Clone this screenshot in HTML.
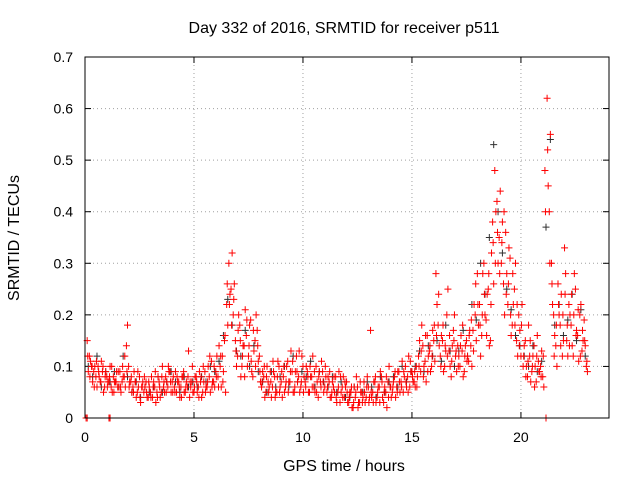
<!DOCTYPE html>
<html><head><meta charset="utf-8"><style>
body{margin:0;background:#fff}
svg text{font-family:"Liberation Sans",sans-serif;font-size:14px;fill:#000}
svg text.big{font-size:16px}
</style></head><body>
<svg id="chart" width="640" height="480" xmlns="http://www.w3.org/2000/svg">
<rect x="0" y="0" width="640" height="480" fill="#fff"/>
<text class="big" x="344" y="33" text-anchor="middle">Day 332 of 2016, SRMTID for receiver p511</text>
<text class="big" x="344" y="471" text-anchor="middle">GPS time / hours</text>
<text class="big" transform="translate(19,238) rotate(-90)" text-anchor="middle">SRMTID / TECUs</text>
<g id="grid"></g>
<g id="ticks"></g>
<g id="black"></g>
<g id="red"></g>
<rect x="85" y="57" width="524" height="361" fill="none" stroke="#000" stroke-width="1"/>
</svg>
<script>
const xTicks=[0,5,10,15,20];
const yTicks=[0,0.1,0.2,0.3,0.4,0.5,0.6,0.7];
const yTickLabels=["0","0.1","0.2","0.3","0.4","0.5","0.6","0.7"];
const redA=[0.15,0.12,0.10,0.09,0.08,0.10,0.07,0.09,0.06,0.08,
0.07,0.06,0.08,0.07,0.06,0.09,0.07,0.08,0.14,0.10,
0.07,0.06,0.07,0.05,0.08,0.06,0.05,0.07,0.04,0.05,
0.04,0.06,0.05,0.07,0.05,0.06,0.08,0.06,0.09,0.07,
0.06,0.05,0.07,0.06,0.08,0.05,0.06,0.04,0.07,0.05,
0.08,0.06,0.07,0.05,0.09,0.06,0.08,0.11,0.07,0.09,
0.08,0.10,0.12,0.15,0.22,0.30,0.25,0.20,0.15,0.12,
0.18,0.10,0.14,0.16,0.12,0.19,0.08,0.15,0.17,0.12,
0.06,0.08,0.05,0.07,0.09,0.06,0.08,0.05,0.10,0.07,
0.08,0.06,0.11,0.07,0.09,0.05,0.12,0.08,0.06,0.10,
0.07,0.09,0.05,0.08,0.06,0.10,0.04,0.07,0.09,0.06,
0.05,0.07,0.04,0.06,0.08,0.05,0.03,0.06,0.04,0.07,
0.03,0.05,0.02,0.04,0.06,0.03,0.05,0.07,0.04,0.06,
0.17,0.05,0.07,0.04,0.06,0.08,0.03,0.05,0.07,0.06,
0.05,0.08,0.06,0.09,0.07,0.05,0.10,0.08,0.06,0.09,
0.07,0.10,0.12,0.09,0.14,0.11,0.16,0.13,0.10,0.15,
0.28,0.18,0.12,0.15,0.10,0.20,0.13,0.08,0.17,0.12,
0.14,0.10,0.13,0.09,0.15,0.11,0.14,0.17,0.20,0.28,
0.22,0.16,0.30,0.19,0.25,0.15,0.38,0.48,0.42,0.35,
0.30,0.26,0.36,0.22,0.31,0.18,0.25,0.15,0.20,0.12,
0.10,0.15,0.08,0.12,0.09,0.14,0.07,0.11,0.10,0.08,
0.48,0.62,0.40,0.30,0.20,0.14,0.26,0.18,0.12,0.33,
0.15,0.22,0.18,0.12,0.25,0.16,0.20,0.13,0.19,0.10];
const redB=[0.09,0.11,0.07,0.10,0.06,0.08,0.11,0.05,0.09,0.07,
0.10,0.05,0.07,0.09,0.06,0.05,0.08,0.06,0.18,0.07,
0.05,0.09,0.04,0.06,0.03,0.07,0.06,0.04,0.06,0.08,
0.07,0.03,0.08,0.04,0.10,0.05,0.07,0.09,0.05,0.08,
0.09,0.07,0.04,0.08,0.05,0.07,0.13,0.06,0.05,0.08,
0.05,0.09,0.04,0.07,0.06,0.10,0.05,0.07,0.06,0.12,
0.14,0.06,0.09,0.05,0.18,0.24,0.32,0.26,0.10,0.20,
0.08,0.14,0.21,0.10,0.18,0.09,0.13,0.20,0.11,0.07,
0.09,0.04,0.10,0.06,0.04,0.09,0.05,0.11,0.06,0.04,
0.05,0.10,0.07,0.13,0.05,0.09,0.07,0.05,0.12,0.08,
0.10,0.05,0.08,0.12,0.05,0.07,0.09,0.11,0.05,0.08,
0.08,0.04,0.07,0.05,0.03,0.09,0.05,0.08,0.06,0.03,
0.05,0.02,0.06,0.08,0.03,0.05,0.04,0.03,0.08,0.04,
0.04,0.07,0.03,0.06,0.09,0.04,0.06,0.02,0.10,0.04,
0.07,0.04,0.09,0.05,0.11,0.08,0.06,0.12,0.09,0.07,
0.06,0.08,0.15,0.18,0.10,0.07,0.12,0.09,0.17,0.11,
0.22,0.14,0.16,0.09,0.13,0.25,0.10,0.14,0.20,0.09,
0.12,0.16,0.08,0.14,0.12,0.17,0.10,0.22,0.15,0.18,
0.12,0.28,0.20,0.24,0.14,0.32,0.26,0.40,0.30,0.44,
0.38,0.20,0.28,0.33,0.16,0.22,0.30,0.12,0.17,0.22,
0.14,0.10,0.18,0.07,0.12,0.10,0.16,0.09,0.13,0.06,
0.00,0.45,0.55,0.22,0.16,0.10,0.20,0.24,0.15,0.28,
0.12,0.20,0.14,0.28,0.17,0.11,0.22,0.15,0.14,0.09];
const redC=[0.12,0.08,0.10,0.06,0.11,0.09,0.07,0.10,0.08,0.06,
0.08,0.10,0.05,0.07,0.09,0.06,0.10,0.12,0.09,0.06,
0.08,0.05,0.07,0.09,0.04,0.06,0.08,0.05,0.07,0.04,
0.06,0.09,0.04,0.06,0.08,0.07,0.05,0.10,0.07,0.05,
0.05,0.08,0.06,0.04,0.09,0.06,0.08,0.07,0.10,0.06,
0.07,0.04,0.08,0.10,0.05,0.07,0.12,0.06,0.10,0.08,
0.06,0.12,0.07,0.16,0.26,0.22,0.18,0.23,0.13,0.17,
0.15,0.12,0.08,0.19,0.14,0.11,0.17,0.10,0.14,0.09,
0.07,0.10,0.08,0.05,0.07,0.11,0.04,0.08,0.05,0.09,
0.10,0.07,0.05,0.09,0.11,0.06,0.09,0.13,0.07,0.05,
0.06,0.08,0.10,0.06,0.09,0.05,0.08,0.06,0.07,0.10,
0.06,0.09,0.05,0.08,0.04,0.06,0.08,0.04,0.07,0.05,
0.04,0.06,0.03,0.05,0.02,0.07,0.03,0.05,0.06,0.03,
0.05,0.03,0.08,0.05,0.03,0.07,0.05,0.08,0.04,0.06,
0.06,0.09,0.05,0.07,0.06,0.09,0.07,0.05,0.11,0.08,
0.09,0.06,0.10,0.13,0.08,0.16,0.09,0.14,0.12,0.18,
0.16,0.24,0.10,0.18,0.14,0.12,0.16,0.11,0.15,0.13,
0.10,0.14,0.18,0.12,0.11,0.16,0.19,0.13,0.26,0.22,
0.18,0.20,0.24,0.16,0.28,0.22,0.34,0.30,0.36,0.28,
0.34,0.40,0.24,0.26,0.20,0.28,0.18,0.22,0.14,0.18,
0.12,0.08,0.11,0.15,0.10,0.06,0.12,0.09,0.08,0.12,
0.40,0.52,0.30,0.26,0.12,0.18,0.22,0.14,0.20,0.24,
0.18,0.14,0.24,0.20,0.16,0.21,0.12,0.17,0.15,0.11];
const redZeroTimes=[0.05,0.1,1.1,1.15];
const blackVals=[0.10,0.08,0.12,0.06,0.09,0.07,0.09,0.06,0.12,0.08,
0.05,0.07,0.04,0.06,0.05,0.06,0.08,0.05,0.07,0.09,
0.07,0.05,0.08,0.06,0.07,0.06,0.08,0.07,0.10,0.09,
0.11,0.16,0.23,0.18,0.13,0.12,0.17,0.10,0.14,0.09,
0.07,0.05,0.09,0.06,0.08,0.10,0.06,0.12,0.07,0.09,
0.08,0.11,0.06,0.09,0.07,0.06,0.08,0.05,0.07,0.04,
0.04,0.06,0.03,0.05,0.07,0.06,0.04,0.08,0.05,0.07,
0.08,0.06,0.10,0.07,0.09,0.10,0.13,0.09,0.14,0.12,
0.15,0.11,0.18,0.13,0.10,0.13,0.17,0.12,0.22,0.19,
0.30,0.24,0.35,0.53,0.40,0.32,0.25,0.21,0.16,0.14,
0.12,0.10,0.14,0.09,0.11,0.37,0.54,0.18,0.22,0.16,
0.19,0.24,0.15,0.21,0.12];
const NS="http://www.w3.org/2000/svg";
const X0=85,X1=609,Y0=418,Y1=57,XMAX=24.04,YMAX=0.7;
function xs(v){return X0+(X1-X0)*v/XMAX;}
function ys(v){return Y0-(Y0-Y1)*v/YMAX;}
function mk(tag,attrs,parent){const e=document.createElementNS(NS,tag);for(const k in attrs)e.setAttribute(k,attrs[k]);parent.appendChild(e);return e;}
const grid=document.getElementById('grid'),ticks=document.getElementById('ticks');
xTicks.forEach(t=>{const x=xs(t);
 if(t>0){const g=mk('line',{x1:x,x2:x,y1:Y0,y2:Y1,stroke:'#a0a0a0','stroke-dasharray':'1,3'},grid);}
 const a=mk('line',{x1:x,x2:x,y1:Y0,y2:Y0-6,stroke:'#000'},ticks);
 const b=mk('line',{x1:x,x2:x,y1:Y1,y2:Y1+6,stroke:'#000'},ticks);
 const tx=mk('text',{x:x,y:Y0+24,'text-anchor':'middle'},ticks);tx.textContent=String(t);});
yTicks.forEach((t,i)=>{const y=ys(t);
 if(t>0&&t<YMAX){const g=mk('line',{x1:X0,x2:X1,y1:y,y2:y,stroke:'#a0a0a0','stroke-dasharray':'1,3'},grid);}
 const a=mk('line',{x1:X0,x2:X0+6,y1:y,y2:y,stroke:'#000'},ticks);
 const b=mk('line',{x1:X1,x2:X1-6,y1:y,y2:y,stroke:'#000'},ticks);
 const tx=mk('text',{x:X0-12,y:y+5,'text-anchor':'end'},ticks);tx.textContent=yTickLabels[i];});
function plus(v,t,color,parent,name){const x=xs(t),y=ys(v);
 const p=mk('path',{d:`M${x-3.5},${y}H${x+3.5}M${x},${y-3.5}V${y+3.5}`,stroke:color,'stroke-width':1,fill:'none'},parent);
 
 }
const bg=document.getElementById('black'),rg=document.getElementById('red');
blackVals.forEach((v,i)=>plus(v,0.15+i*0.2,'#303030',bg,'black-point'));
redA.forEach((v,i)=>plus(v,0.1+i*0.1,'#ff0000',rg,'red-point'));
redB.forEach((v,i)=>plus(v,0.15+i*0.1,'#ff0000',rg,'red-point'));
redC.forEach((v,i)=>plus(v,0.125+i*0.1,'#ff0000',rg,'red-point'));
redZeroTimes.forEach(t=>plus(0,t,'#ff0000',rg,'red-zero-point'));
</script>
</body></html>
